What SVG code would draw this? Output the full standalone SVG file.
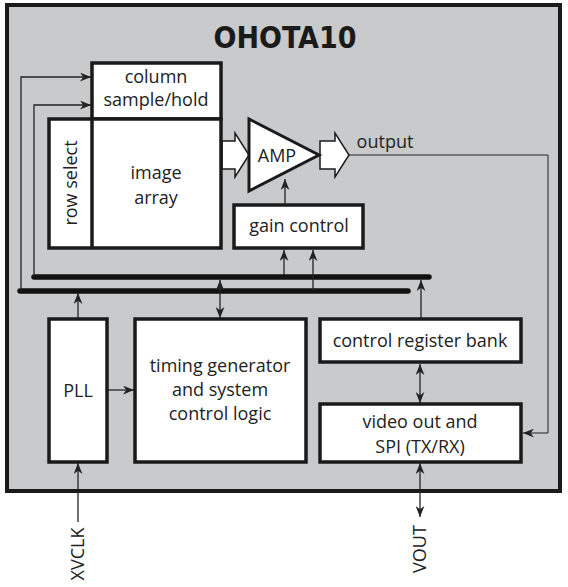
<svg xmlns="http://www.w3.org/2000/svg" width="568" height="587" viewBox="0 0 568 587">
<defs>
<style>
.box{fill:#fff;stroke:#1a1a1a;stroke-width:3.5}
.t{font-family:"Open Sans","Noto Sans",sans-serif;font-size:18px;fill:#222;text-anchor:middle}
.ln{fill:none;stroke:#222;stroke-width:1.3}
.bus{fill:none;stroke:#111;stroke-width:5.5;stroke-linecap:round}
.blk{fill:#fff;stroke:#1a1a1a;stroke-width:1.5}
</style>
<marker id="ah" viewBox="0 0 10 8" refX="10" refY="4" markerWidth="11" markerHeight="9" markerUnits="userSpaceOnUse" orient="auto-start-reverse">
<path d="M0,0 L10,4 L0,8 L3,4 z" fill="#222"/>
</marker>
</defs>
<rect width="568" height="587" fill="#fff"/>
<g id="chip">
<rect x="7" y="5" width="553" height="486" fill="#c9cacc" stroke="#1a1a1a" stroke-width="4"/>
<text x="285" y="48" style="font-family:'DejaVu Sans Condensed','DejaVu Sans',sans-serif;font-size:30px;font-weight:bold;fill:#1a1a1a;text-anchor:middle">OHOTA10</text>
</g>
<g id="connectors">
<line class="bus" x1="34" y1="277" x2="429" y2="277"/>
<line class="bus" x1="20" y1="291" x2="408" y2="291"/>
<polyline class="ln" points="21,291 21,77 91,77" marker-end="url(#ah)"/>
<polyline class="ln" points="34,277 34,105 91,105" marker-end="url(#ah)"/>
<line class="ln" x1="78" y1="318" x2="78" y2="293" marker-end="url(#ah)"/>
<line class="ln" x1="220" y1="280" x2="220" y2="318" marker-start="url(#ah)" marker-end="url(#ah)"/>
<line class="ln" x1="284" y1="275" x2="284" y2="250" marker-end="url(#ah)"/>
<line class="ln" x1="313" y1="291" x2="313" y2="250" marker-end="url(#ah)"/>
<line class="ln" x1="285" y1="204" x2="285" y2="179" marker-end="url(#ah)"/>
<line class="ln" x1="421" y1="318" x2="421" y2="280" marker-end="url(#ah)"/>
<line class="ln" x1="420" y1="364" x2="420" y2="403" marker-start="url(#ah)" marker-end="url(#ah)"/>
<line class="ln" x1="108" y1="390" x2="134" y2="390" marker-end="url(#ah)"/>
<polyline class="ln" style="stroke-width:1" points="349,155 548,155 548,433 523,433" marker-end="url(#ah)"/>
<line class="ln" x1="78" y1="522" x2="78" y2="463" marker-end="url(#ah)"/>
<line class="ln" x1="420" y1="517" x2="420" y2="463" marker-start="url(#ah)" marker-end="url(#ah)"/>
<polygon class="blk" points="222,141 235,141 235,133 249,155 235,177 235,169 222,169"/>
<polygon class="blk" points="320,141 335,141 335,133 349,155 335,177 335,169 320,169"/>
</g>
<g id="column-sample-hold">
<rect class="box" x="92" y="63" width="129" height="56"/>
<text class="t" x="156" y="83">column</text>
<text class="t" x="156" y="106">sample/hold</text>
</g>
<g id="image-array">
<rect class="box" x="49" y="119" width="172" height="129"/>
<line x1="92" y1="119" x2="92" y2="248" stroke="#1a1a1a" stroke-width="3.5"/>
<text class="t" x="156" y="179">image</text>
<text class="t" x="156" y="204">array</text>
</g>
<g id="row-select">
<text class="t" transform="translate(77,183) rotate(-90)">row select</text>
</g>
<g id="amp">
<polygon points="249,119 319,155 249,191" fill="#fff" stroke="#1a1a1a" stroke-width="3" stroke-linejoin="miter"/>
<text class="t" x="277" y="162">AMP</text>
</g>
<g id="output-label">
<text class="t" x="385" y="148">output</text>
</g>
<g id="gain-control">
<rect class="box" x="234" y="205" width="129" height="43"/>
<text class="t" x="299" y="232">gain control</text>
</g>
<g id="pll">
<rect class="box" x="49" y="319" width="58" height="143"/>
<text class="t" x="78" y="397">PLL</text>
</g>
<g id="timing-generator">
<rect class="box" x="135" y="319" width="171" height="143"/>
<text class="t" x="220" y="372">timing generator</text>
<text class="t" x="220" y="396">and system</text>
<text class="t" x="220" y="420">control logic</text>
</g>
<g id="control-register-bank">
<rect class="box" x="320" y="319" width="201" height="43"/>
<text class="t" x="420" y="347">control register bank</text>
</g>
<g id="video-out">
<rect class="box" x="320" y="404" width="201" height="58"/>
<text class="t" x="420" y="428">video out and</text>
<text class="t" x="420" y="453">SPI (TX/RX)</text>
</g>
<g id="xvclk">
<text class="t" transform="translate(84,554) rotate(-90)">XVCLK</text>
</g>
<g id="vout">
<text class="t" transform="translate(426,549) rotate(-90)">VOUT</text>
</g>
</svg>
